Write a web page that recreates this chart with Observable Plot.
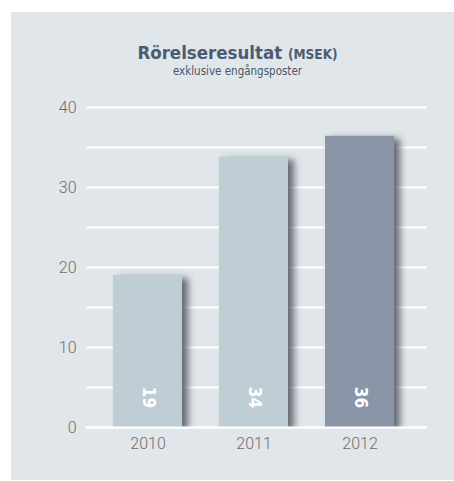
<!DOCTYPE html>
<html>
<head>
<meta charset="utf-8">
<script src="https://cdn.jsdelivr.net/npm/d3@7"></script>
<script src="https://cdn.jsdelivr.net/npm/@observablehq/plot@0.6"></script>
<style>
  html, body { margin: 0; padding: 0; background: #ffffff; }
  #panel { position: absolute; left: 11px; top: 12px; width: 443px; height: 468px; background: #e1e6ea; overflow: hidden; }
  #title { position: absolute; left: 0; top: 31px; width: 453px; text-align: center; font-family: "DejaVu Sans Condensed", "DejaVu Sans", sans-serif; font-stretch: condensed; font-weight: bold; font-size: 18.5px; color: #4b5b72; line-height: 20px; white-space: nowrap; }
  #title .unit { font-size: 13.5px; }
  #subtitle { position: absolute; left: 0; top: 52px; width: 453px; text-align: center; font-family: "DejaVu Sans Condensed", "DejaVu Sans", sans-serif; font-stretch: condensed; font-size: 11.5px; color: #4a5666; line-height: 14px; white-space: nowrap; }
  #chart { position: absolute; left: 0; top: 78px; }
  #chart svg [aria-label^="y-axis"] text, #chart svg [aria-label^="x-axis"] text { font-family: Roboto, sans-serif; font-weight: 300; }
</style>
</head>
<body>
<div id="panel">
  <div id="title">Rörelseresultat <span class="unit">(MSEK)</span></div>
  <div id="subtitle">exklusive engångsposter</div>
  <div id="chart"></div>
</div>
<script>
const years = ["2010", "2011", "2012"];
const values = [19, 33.8, 36.4];
const barColors = ["#bfcdd5", "#bfcdd5", "#8a96a8"];
const yTicks = [0, 10, 20, 30, 40];
const gridValues = [0, 5, 10, 15, 20, 25, 30, 35, 40];

const data = years.map((year, i) => ({year, value: values[i], color: barColors[i]}));

const plot = Plot.plot({
  width: 443,
  height: 390,
  marginLeft: 75,
  marginRight: 27,
  marginTop: 17,
  marginBottom: 53,
  style: {background: "transparent", fontSize: "16px", color: "#6e6e6e", overflow: "visible"},
  x: {domain: years, paddingInner: 0.35, paddingOuter: 0.28, align: 0.45, label: null, tickSize: 0, tickPadding: 10},
  y: {domain: [0, 40], ticks: yTicks, label: null, tickSize: 0, tickPadding: 10},
  color: {type: "identity"},
  marks: [
    Plot.ruleY(gridValues, {stroke: "#ffffff", strokeWidth: 2}),
    Plot.barY(data, {x: "year", y: "value", fill: "color"}),
    Plot.ruleY([0], {stroke: "#ffffff", strokeWidth: 2}),
    Plot.text(data, {x: "year", y: 0, dy: -30, rotate: 90, text: d => String(Math.round(d.value)), fill: "#ffffff", fontWeight: "bold", fontSize: 17, fontFamily: "DejaVu Sans Condensed, DejaVu Sans, sans-serif"})
  ]
});

document.getElementById("chart").appendChild(plot);

// drop shadow for bars, clipped at the baseline
const y0 = plot.scale("y").apply(0);
const svg = d3.select(plot);
const defs = svg.insert("defs", ":first-child");
const f = defs.append("filter").attr("id", "barShadow")
  .attr("filterUnits", "userSpaceOnUse")
  .attr("x", 0).attr("y", 0).attr("width", 443).attr("height", y0);
f.append("feDropShadow").attr("dx", 6).attr("dy", 3).attr("stdDeviation", 3.5)
  .attr("flood-color", "#454b53").attr("flood-opacity", 0.8);
svg.selectAll('g[aria-label="bar"]').attr("filter", "url(#barShadow)");
</script>
</body>
</html>
